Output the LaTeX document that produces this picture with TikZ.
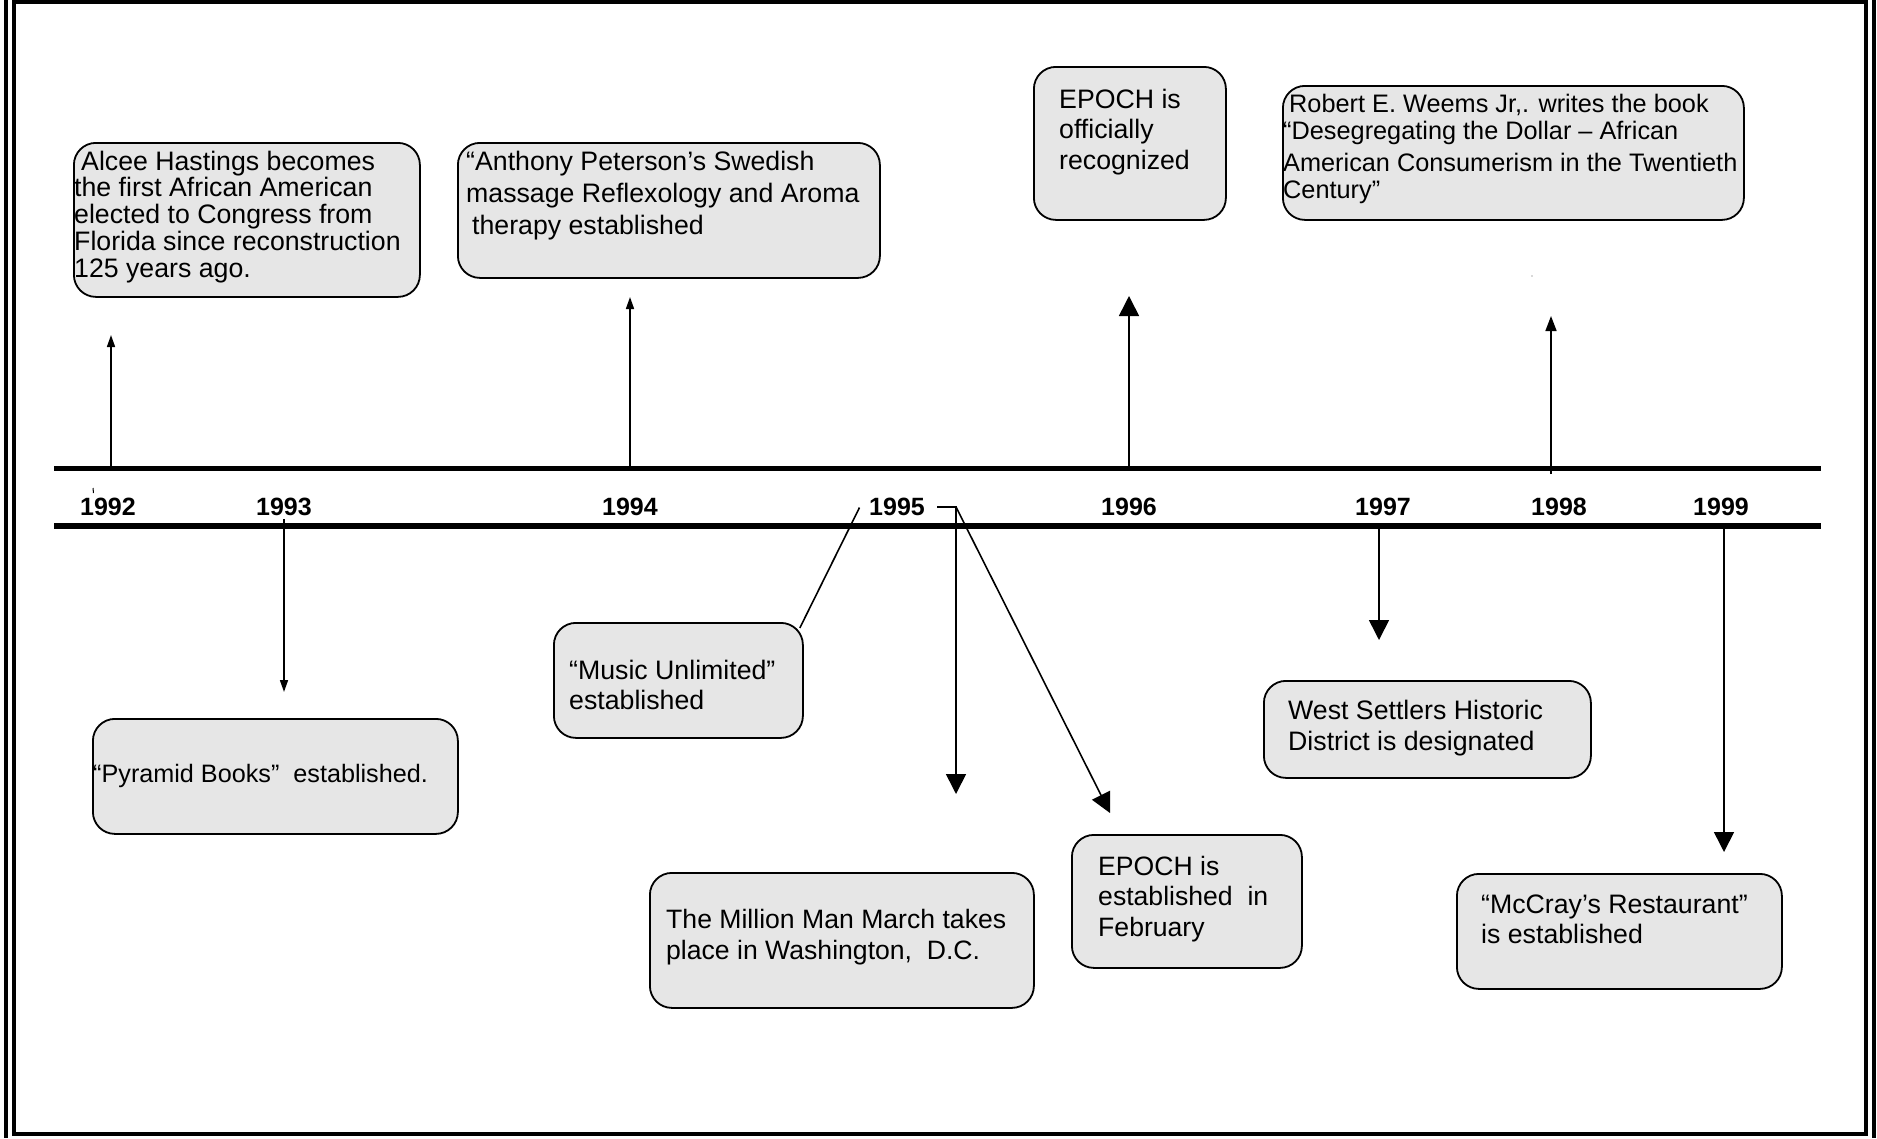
\documentclass[tikz,border=0pt]{standalone}
\usepackage{fontspec}
\setmainfont{Liberation Sans}
\usetikzlibrary{arrows.meta,calc}
\definecolor{boxfill}{HTML}{E6E6E6}
\begin{document}
\begin{tikzpicture}[x=1pt,y=-1pt,
  evbox/.style={draw=black, line width=1.8pt, fill=boxfill, rounded corners=22pt, anchor=north west, inner sep=0pt},
  evtext/.style={align=left, inner sep=0pt, anchor=base west, font=\fontsize{26.7}{30}\selectfont},
  year/.style={font=\bfseries\fontsize{25}{30}\selectfont, inner sep=0pt, anchor=base},
  conn/.style={line width=1.6pt},
  bigtip/.style={-{Triangle[width=20pt,length=20pt]}},
  smalltip/.style={-{Triangle[width=8pt,length=12pt]}},
  midtip/.style={-{Triangle[width=11pt,length=15pt]}},
  tline/.style={line width=5.5pt},
  framel/.style={line width=4pt}
]
\useasboundingbox (0,0) rectangle (1877,1138);
% frame
\draw[framel] (14,2.3) rectangle (1866,1134);
\draw[line width=3.6pt] (5.7,0) -- (5.7,1138);
\draw[line width=3.6pt] (1874,0) -- (1874,1138);

% timeline
\coordinate (tlA) at (54,468.5);
\coordinate (tlB) at (1821,468.5);
\coordinate (tlC) at (54,526);
\coordinate (tlD) at (1821,526);
\draw[tline] (tlA) -- (tlB);
\draw[tline] (tlC) -- (tlD);

% stray marks
\draw[line width=1pt] (93,488) -- (93.5,493);
\fill[gray!60] (1532,276) circle (0.8pt);

% years
\node[year] (y92) at (108,515) {1992};
\node[year] (y93) at (284,515) {1993};
\node[year] (y94) at (630,515) {1994};
\node[year] (y95) at (897,515) {1995};
\node[year] (y96) at (1129,515) {1996};
\node[year] (y97) at (1383,515) {1997};
\node[year] (y98) at (1559,515) {1998};
\node[year] (y99) at (1721,515) {1999};

% boxes (text nodes anchored at the baseline of their last line)
\node[evbox, minimum width=346pt, minimum height=154pt] (alcee) at (73,142) {};
\node[evtext, font=\fontsize{26.7}{26.7}\selectfont] (alceet) at (74,277)
  {\hspace*{7pt}Alcee Hastings becomes\\the first African American\\elected to Congress from\\Florida since reconstruction\\125 years ago.};

\node[evbox, minimum width=422pt, minimum height=135pt] (anthony) at (457,142) {};
\node[evtext, font=\fontsize{26.7}{32}\selectfont] (anthonyt) at (466,234)
  {“Anthony Peterson’s Swedish\\massage Reflexology and Aroma\\\hspace*{6pt}therapy established};

\node[evbox, minimum width=192pt, minimum height=153pt] (epochA) at (1033,66) {};
\node[evtext, font=\fontsize{26.7}{30.5}\selectfont] (epochAt) at (1059,169)
  {EPOCH is\\officially\\recognized};

\node[evbox, minimum width=461pt, minimum height=134pt] (weems) at (1282,85) {};
\node[evtext, font=\fontsize{25.3}{26.8}\selectfont] (weemst) at (1283,198)
  {\hspace*{6pt}Robert E. Weems Jr,. writes the book\\“Desegregating the Dollar – African\\[5pt]American Consumerism in the Twentieth\\Century”};

\node[evbox, minimum width=365pt, minimum height=115pt] (pyramid) at (92,718) {};
\node[evtext, font=\fontsize{25.2}{30}\selectfont] (pyramidt) at (93,782) {“Pyramid Books”\ \ established.};

\node[evbox, minimum width=249pt, minimum height=115pt] (music) at (553,622) {};
\node[evtext, font=\fontsize{26.7}{29.8}\selectfont] (musict) at (569,709)
  {“Music Unlimited”\\established};

\node[evbox, minimum width=384pt, minimum height=135pt] (million) at (649,872) {};
\node[evtext, font=\fontsize{26.6}{31}\selectfont] (milliont) at (666,959)
  {The Million Man March takes\\place in Washington,\ \ D.C.};

\node[evbox, minimum width=230pt, minimum height=133pt] (epochB) at (1071,834) {};
\node[evtext, font=\fontsize{26.6}{30.5}\selectfont] (epochBt) at (1098,936)
  {EPOCH is\\established\ \ in\\February};

\node[evbox, minimum width=327pt, minimum height=97pt] (west) at (1263,680) {};
\node[evtext, font=\fontsize{26.7}{31}\selectfont] (westt) at (1288,750)
  {West Settlers Historic\\District is designated};

\node[evbox, minimum width=325pt, minimum height=115pt] (mccray) at (1456,873) {};
\node[evtext, font=\fontsize{26.7}{30}\selectfont] (mccrayt) at (1481,943)
  {“McCray’s Restaurant”\\is established};

% up arrows
\coordinate (u92s) at (111,466); \coordinate (u92e) at (111,335);
\draw[conn, smalltip] (u92s) -- (u92e);
\coordinate (u94s) at (630,466); \coordinate (u94e) at (630,297);
\draw[conn, smalltip] (u94s) -- (u94e);
\coordinate (u96s) at (1129,466); \coordinate (u96e) at (1129,296);
\draw[conn, bigtip] (u96s) -- (u96e);
\coordinate (u98s) at (1551,474); \coordinate (u98e) at (1551,316);
\draw[conn, midtip] (u98s) -- (u98e);

% down arrows
\coordinate (d93s) at (284,519); \coordinate (d93e) at (284,692);
\draw[conn, smalltip] (d93s) -- (d93e);
\coordinate (d95a) at (937,507); \coordinate (d95b) at (956,507);
\coordinate (d95c) at (956,794); \coordinate (d95d) at (1110,813);
\draw[conn, bigtip] (d95a) -- (d95b) -- (d95c);
\draw[conn, bigtip] (d95b) -- (d95d);
\coordinate (m95) at (859.5,507.5);
\draw[conn] (m95) -- ($(music.north east)+(-4,6)$);
\coordinate (d97s) at (1379,526); \coordinate (d97e) at (1379,640);
\draw[conn, bigtip] (d97s) -- (d97e);
\coordinate (d99s) at (1724,526); \coordinate (d99e) at (1724,852);
\draw[conn, bigtip] (d99s) -- (d99e);
\end{tikzpicture}
\end{document}
